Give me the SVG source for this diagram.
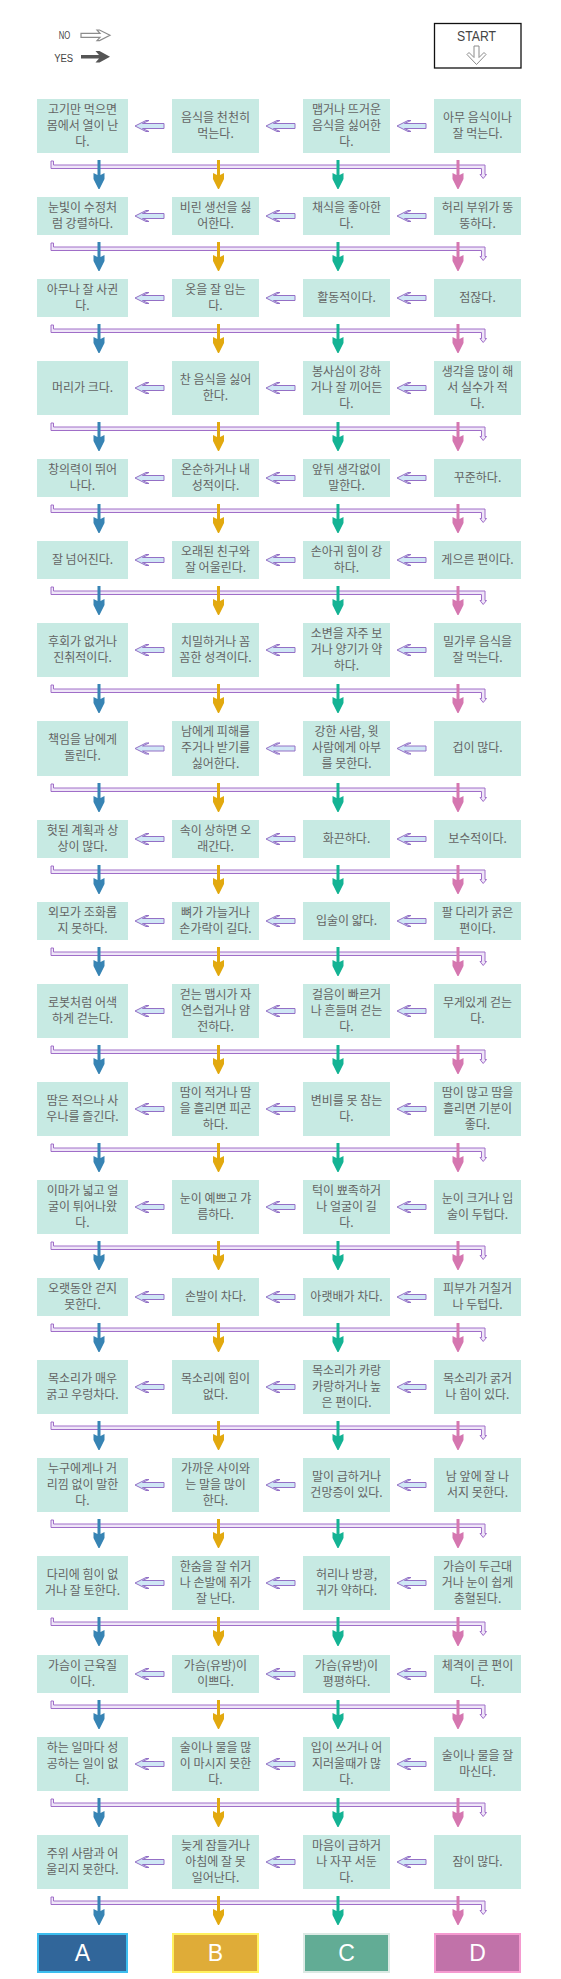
<svg xmlns="http://www.w3.org/2000/svg" xmlns:xlink="http://www.w3.org/1999/xlink" width="561" height="1979" viewBox="0 0 561 1979">
<style>
.b{fill:#C7EAE3}
.t{font-family:"Noto Sans CJK KR","Noto Sans",sans-serif;font-size:12px;fill:#646464;text-anchor:middle}
.lg{font-family:"Liberation Sans",Arial,sans-serif;fill:#444;text-anchor:middle}
.r{font-family:"Liberation Sans",Arial,sans-serif;font-size:23px;fill:#fff;text-anchor:middle}
.no{fill:#CFE7F5;stroke:#9470C6;stroke-width:1}
.bar{fill:#EFE6F8;stroke:#A06EC8;stroke-width:1}
.ca{fill:#3784B4}.cb{fill:#E2A90F}.cc{fill:#14B394}.cd{fill:#D577B0}
</style>
<defs>
<path id="noar" d="M0,0 L11,-5.5 H14 L7.5,-2.5 H29 V2.5 H7.5 L14,5.5 H11 Z"/>
<path id="bar" d="M51,8 H53.5 V12 H485 V21.5 H486.5 L483.2,25.5 L480,21.5 H481.5 V15.5 H51 Z"/>
<path id="ya" d="M-1.5,0 H1.5 V15 L5.5,13 V19 L0.5,29 H-0.5 L-5.5,19 V13 L-1.5,15 Z"/>
</defs>
<rect width="561" height="1979" fill="#fff"/>
<g id="legend">
<text class="lg" x="64.5" y="39" font-size="10" textLength="11.5" lengthAdjust="spacingAndGlyphs">NO</text>
<path d="M81,33.3 H100 L97,30 H99.5 L110,35.3 L99.5,40.6 H97 L100,37.3 H81 Z" fill="#fff" stroke="#8C8C8C" stroke-width="1.2"/>
<text class="lg" x="63.7" y="61.5" font-size="10" textLength="19" lengthAdjust="spacingAndGlyphs">YES</text>
<path d="M81,55 H99 L95.5,51 H99.5 L110,56.8 L99.5,62.6 H95.5 L99,58.6 H81 Z" fill="#555"/>
</g>
<g id="start">
<rect x="434.5" y="23.5" width="86.5" height="44.5" fill="#fff" stroke="#111" stroke-width="1.3"/>
<text class="lg" x="476.5" y="41" font-size="14" textLength="39" lengthAdjust="spacingAndGlyphs">START</text>
<path d="M474,46 H479 V57.5 L484,52.5 L486,54.5 L476.5,64.5 L467,54.5 L469,52.5 L474,57.5 Z" fill="#fff" stroke="#8C8C8C" stroke-width="1"/>
</g>
<g id="row1">
<g id="n1a"><rect class="b" x="37" y="99" width="91" height="54"/><text class="t"><tspan x="82.5" y="113.5">고기만 먹으면</tspan><tspan x="82.5" y="129.5">몸에서 열이 난</tspan><tspan x="82.5" y="145.5">다.</tspan></text></g>
<g id="n1b"><rect class="b" x="172" y="99" width="87" height="54"/><text class="t"><tspan x="215.5" y="121.5">음식을 천천히</tspan><tspan x="215.5" y="137.5">먹는다.</tspan></text></g>
<g id="n1c"><rect class="b" x="303" y="99" width="87" height="54"/><text class="t"><tspan x="346.5" y="113.5">맵거나 뜨거운</tspan><tspan x="346.5" y="129.5">음식을 싫어한</tspan><tspan x="346.5" y="145.5">다.</tspan></text></g>
<g id="n1d"><rect class="b" x="434" y="99" width="87" height="54"/><text class="t"><tspan x="477.5" y="121.5">아무 음식이나</tspan><tspan x="477.5" y="137.5">잘 먹는다.</tspan></text></g>
</g>
<g id="row2">
<g id="n2a"><rect class="b" x="37" y="197" width="91" height="38"/><text class="t"><tspan x="82.5" y="211.5">눈빛이 수정처</tspan><tspan x="82.5" y="227.5">럼 강렬하다.</tspan></text></g>
<g id="n2b"><rect class="b" x="172" y="197" width="87" height="38"/><text class="t"><tspan x="215.5" y="211.5">비린 생선을 싫</tspan><tspan x="215.5" y="227.5">어한다.</tspan></text></g>
<g id="n2c"><rect class="b" x="303" y="197" width="87" height="38"/><text class="t"><tspan x="346.5" y="211.5">채식을 좋아한</tspan><tspan x="346.5" y="227.5">다.</tspan></text></g>
<g id="n2d"><rect class="b" x="434" y="197" width="87" height="38"/><text class="t"><tspan x="477.5" y="211.5">허리 부위가 뚱</tspan><tspan x="477.5" y="227.5">뚱하다.</tspan></text></g>
</g>
<g id="row3">
<g id="n3a"><rect class="b" x="37" y="279" width="91" height="38"/><text class="t"><tspan x="82.5" y="293.5">아무나 잘 사귄</tspan><tspan x="82.5" y="309.5">다.</tspan></text></g>
<g id="n3b"><rect class="b" x="172" y="279" width="87" height="38"/><text class="t"><tspan x="215.5" y="293.5">옷을 잘 입는</tspan><tspan x="215.5" y="309.5">다.</tspan></text></g>
<g id="n3c"><rect class="b" x="303" y="279" width="87" height="38"/><text class="t" x="346.5" y="301.5">활동적이다.</text></g>
<g id="n3d"><rect class="b" x="434" y="279" width="87" height="38"/><text class="t" x="477.5" y="301.5">점잖다.</text></g>
</g>
<g id="row4">
<g id="n4a"><rect class="b" x="37" y="361" width="91" height="54"/><text class="t" x="82.5" y="391.5">머리가 크다.</text></g>
<g id="n4b"><rect class="b" x="172" y="361" width="87" height="54"/><text class="t"><tspan x="215.5" y="383.5">찬 음식을 싫어</tspan><tspan x="215.5" y="399.5">한다.</tspan></text></g>
<g id="n4c"><rect class="b" x="303" y="361" width="87" height="54"/><text class="t"><tspan x="346.5" y="375.5">봉사심이 강하</tspan><tspan x="346.5" y="391.5">거나 잘 끼어든</tspan><tspan x="346.5" y="407.5">다.</tspan></text></g>
<g id="n4d"><rect class="b" x="434" y="361" width="87" height="54"/><text class="t"><tspan x="477.5" y="375.5">생각을 많이 해</tspan><tspan x="477.5" y="391.5">서 실수가 적</tspan><tspan x="477.5" y="407.5">다.</tspan></text></g>
</g>
<g id="row5">
<g id="n5a"><rect class="b" x="37" y="459" width="91" height="38"/><text class="t"><tspan x="82.5" y="473.5">창의력이 뛰어</tspan><tspan x="82.5" y="489.5">나다.</tspan></text></g>
<g id="n5b"><rect class="b" x="172" y="459" width="87" height="38"/><text class="t"><tspan x="215.5" y="473.5">온순하거나 내</tspan><tspan x="215.5" y="489.5">성적이다.</tspan></text></g>
<g id="n5c"><rect class="b" x="303" y="459" width="87" height="38"/><text class="t"><tspan x="346.5" y="473.5">앞뒤 생각없이</tspan><tspan x="346.5" y="489.5">말한다.</tspan></text></g>
<g id="n5d"><rect class="b" x="434" y="459" width="87" height="38"/><text class="t" x="477.5" y="481.5">꾸준하다.</text></g>
</g>
<g id="row6">
<g id="n6a"><rect class="b" x="37" y="541" width="91" height="38"/><text class="t" x="82.5" y="563.5">잘 넘어진다.</text></g>
<g id="n6b"><rect class="b" x="172" y="541" width="87" height="38"/><text class="t"><tspan x="215.5" y="555.5">오래된 친구와</tspan><tspan x="215.5" y="571.5">잘 어울린다.</tspan></text></g>
<g id="n6c"><rect class="b" x="303" y="541" width="87" height="38"/><text class="t"><tspan x="346.5" y="555.5">손아귀 힘이 강</tspan><tspan x="346.5" y="571.5">하다.</tspan></text></g>
<g id="n6d"><rect class="b" x="434" y="541" width="87" height="38"/><text class="t" x="477.5" y="563.5">게으른 편이다.</text></g>
</g>
<g id="row7">
<g id="n7a"><rect class="b" x="37" y="623" width="91" height="54"/><text class="t"><tspan x="82.5" y="645.5">후회가 없거나</tspan><tspan x="82.5" y="661.5">진취적이다.</tspan></text></g>
<g id="n7b"><rect class="b" x="172" y="623" width="87" height="54"/><text class="t"><tspan x="215.5" y="645.5">치밀하거나 꼼</tspan><tspan x="215.5" y="661.5">꼼한 성격이다.</tspan></text></g>
<g id="n7c"><rect class="b" x="303" y="623" width="87" height="54"/><text class="t"><tspan x="346.5" y="637.5">소변을 자주 보</tspan><tspan x="346.5" y="653.5">거나 양기가 약</tspan><tspan x="346.5" y="669.5">하다.</tspan></text></g>
<g id="n7d"><rect class="b" x="434" y="623" width="87" height="54"/><text class="t"><tspan x="477.5" y="645.5">밀가루 음식을</tspan><tspan x="477.5" y="661.5">잘 먹는다.</tspan></text></g>
</g>
<g id="row8">
<g id="n8a"><rect class="b" x="37" y="721" width="91" height="55"/><text class="t"><tspan x="82.5" y="744">책임을 남에게</tspan><tspan x="82.5" y="760">돌린다.</tspan></text></g>
<g id="n8b"><rect class="b" x="172" y="721" width="87" height="55"/><text class="t"><tspan x="215.5" y="736">남에게 피해를</tspan><tspan x="215.5" y="752">주거나 받기를</tspan><tspan x="215.5" y="768">싫어한다.</tspan></text></g>
<g id="n8c"><rect class="b" x="303" y="721" width="87" height="55"/><text class="t"><tspan x="346.5" y="736">강한 사람, 윗</tspan><tspan x="346.5" y="752">사람에게 아부</tspan><tspan x="346.5" y="768">를 못한다.</tspan></text></g>
<g id="n8d"><rect class="b" x="434" y="721" width="87" height="55"/><text class="t" x="477.5" y="752">겁이 많다.</text></g>
</g>
<g id="row9">
<g id="n9a"><rect class="b" x="37" y="820" width="91" height="38"/><text class="t"><tspan x="82.5" y="834.5">헛된 계획과 상</tspan><tspan x="82.5" y="850.5">상이 많다.</tspan></text></g>
<g id="n9b"><rect class="b" x="172" y="820" width="87" height="38"/><text class="t"><tspan x="215.5" y="834.5">속이 상하면 오</tspan><tspan x="215.5" y="850.5">래간다.</tspan></text></g>
<g id="n9c"><rect class="b" x="303" y="820" width="87" height="38"/><text class="t" x="346.5" y="842.5">화끈하다.</text></g>
<g id="n9d"><rect class="b" x="434" y="820" width="87" height="38"/><text class="t" x="477.5" y="842.5">보수적이다.</text></g>
</g>
<g id="row10">
<g id="n10a"><rect class="b" x="37" y="902" width="91" height="38"/><text class="t"><tspan x="82.5" y="916.5">외모가 조화롭</tspan><tspan x="82.5" y="932.5">지 못하다.</tspan></text></g>
<g id="n10b"><rect class="b" x="172" y="902" width="87" height="38"/><text class="t"><tspan x="215.5" y="916.5">뼈가 가늘거나</tspan><tspan x="215.5" y="932.5">손가락이 길다.</tspan></text></g>
<g id="n10c"><rect class="b" x="303" y="902" width="87" height="38"/><text class="t" x="346.5" y="924.5">입술이 얇다.</text></g>
<g id="n10d"><rect class="b" x="434" y="902" width="87" height="38"/><text class="t"><tspan x="477.5" y="916.5">팔 다리가 굵은</tspan><tspan x="477.5" y="932.5">편이다.</tspan></text></g>
</g>
<g id="row11">
<g id="n11a"><rect class="b" x="37" y="984" width="91" height="54"/><text class="t"><tspan x="82.5" y="1006.5">로봇처럼 어색</tspan><tspan x="82.5" y="1022.5">하게 걷는다.</tspan></text></g>
<g id="n11b"><rect class="b" x="172" y="984" width="87" height="54"/><text class="t"><tspan x="215.5" y="998.5">걷는 맵시가 자</tspan><tspan x="215.5" y="1014.5">연스럽거나 얌</tspan><tspan x="215.5" y="1030.5">전하다.</tspan></text></g>
<g id="n11c"><rect class="b" x="303" y="984" width="87" height="54"/><text class="t"><tspan x="346.5" y="998.5">걸음이 빠르거</tspan><tspan x="346.5" y="1014.5">나 흔들며 걷는</tspan><tspan x="346.5" y="1030.5">다.</tspan></text></g>
<g id="n11d"><rect class="b" x="434" y="984" width="87" height="54"/><text class="t"><tspan x="477.5" y="1006.5">무게있게 걷는</tspan><tspan x="477.5" y="1022.5">다.</tspan></text></g>
</g>
<g id="row12">
<g id="n12a"><rect class="b" x="37" y="1082" width="91" height="54"/><text class="t"><tspan x="82.5" y="1104.5">땀은 적으나 사</tspan><tspan x="82.5" y="1120.5">우나를 즐긴다.</tspan></text></g>
<g id="n12b"><rect class="b" x="172" y="1082" width="87" height="54"/><text class="t"><tspan x="215.5" y="1096.5">땀이 적거나 땀</tspan><tspan x="215.5" y="1112.5">을 흘리면 피곤</tspan><tspan x="215.5" y="1128.5">하다.</tspan></text></g>
<g id="n12c"><rect class="b" x="303" y="1082" width="87" height="54"/><text class="t"><tspan x="346.5" y="1104.5">변비를 못 참는</tspan><tspan x="346.5" y="1120.5">다.</tspan></text></g>
<g id="n12d"><rect class="b" x="434" y="1082" width="87" height="54"/><text class="t"><tspan x="477.5" y="1096.5">땀이 많고 땀을</tspan><tspan x="477.5" y="1112.5">흘리면 기분이</tspan><tspan x="477.5" y="1128.5">좋다.</tspan></text></g>
</g>
<g id="row13">
<g id="n13a"><rect class="b" x="37" y="1180" width="91" height="54"/><text class="t"><tspan x="82.5" y="1194.5">이마가 넓고 얼</tspan><tspan x="82.5" y="1210.5">굴이 튀어나왔</tspan><tspan x="82.5" y="1226.5">다.</tspan></text></g>
<g id="n13b"><rect class="b" x="172" y="1180" width="87" height="54"/><text class="t"><tspan x="215.5" y="1202.5">눈이 예쁘고 갸</tspan><tspan x="215.5" y="1218.5">름하다.</tspan></text></g>
<g id="n13c"><rect class="b" x="303" y="1180" width="87" height="54"/><text class="t"><tspan x="346.5" y="1194.5">턱이 뾰족하거</tspan><tspan x="346.5" y="1210.5">나 얼굴이 길</tspan><tspan x="346.5" y="1226.5">다.</tspan></text></g>
<g id="n13d"><rect class="b" x="434" y="1180" width="87" height="54"/><text class="t"><tspan x="477.5" y="1202.5">눈이 크거나 입</tspan><tspan x="477.5" y="1218.5">술이 두텁다.</tspan></text></g>
</g>
<g id="row14">
<g id="n14a"><rect class="b" x="37" y="1278" width="91" height="38"/><text class="t"><tspan x="82.5" y="1292.5">오랫동안 걷지</tspan><tspan x="82.5" y="1308.5">못한다.</tspan></text></g>
<g id="n14b"><rect class="b" x="172" y="1278" width="87" height="38"/><text class="t" x="215.5" y="1300.5">손발이 차다.</text></g>
<g id="n14c"><rect class="b" x="303" y="1278" width="87" height="38"/><text class="t" x="346.5" y="1300.5">아랫배가 차다.</text></g>
<g id="n14d"><rect class="b" x="434" y="1278" width="87" height="38"/><text class="t"><tspan x="477.5" y="1292.5">피부가 거칠거</tspan><tspan x="477.5" y="1308.5">나 두텁다.</tspan></text></g>
</g>
<g id="row15">
<g id="n15a"><rect class="b" x="37" y="1360" width="91" height="54"/><text class="t"><tspan x="82.5" y="1382.5">목소리가 매우</tspan><tspan x="82.5" y="1398.5">굵고 우렁차다.</tspan></text></g>
<g id="n15b"><rect class="b" x="172" y="1360" width="87" height="54"/><text class="t"><tspan x="215.5" y="1382.5">목소리에 힘이</tspan><tspan x="215.5" y="1398.5">없다.</tspan></text></g>
<g id="n15c"><rect class="b" x="303" y="1360" width="87" height="54"/><text class="t"><tspan x="346.5" y="1374.5">목소리가 카랑</tspan><tspan x="346.5" y="1390.5">카랑하거나 높</tspan><tspan x="346.5" y="1406.5">은 편이다.</tspan></text></g>
<g id="n15d"><rect class="b" x="434" y="1360" width="87" height="54"/><text class="t"><tspan x="477.5" y="1382.5">목소리가 굵거</tspan><tspan x="477.5" y="1398.5">나 힘이 있다.</tspan></text></g>
</g>
<g id="row16">
<g id="n16a"><rect class="b" x="37" y="1458" width="91" height="54"/><text class="t"><tspan x="82.5" y="1472.5">누구에게나 거</tspan><tspan x="82.5" y="1488.5">리낌 없이 말한</tspan><tspan x="82.5" y="1504.5">다.</tspan></text></g>
<g id="n16b"><rect class="b" x="172" y="1458" width="87" height="54"/><text class="t"><tspan x="215.5" y="1472.5">가까운 사이와</tspan><tspan x="215.5" y="1488.5">는 말을 많이</tspan><tspan x="215.5" y="1504.5">한다.</tspan></text></g>
<g id="n16c"><rect class="b" x="303" y="1458" width="87" height="54"/><text class="t"><tspan x="346.5" y="1480.5">말이 급하거나</tspan><tspan x="346.5" y="1496.5">건망증이 있다.</tspan></text></g>
<g id="n16d"><rect class="b" x="434" y="1458" width="87" height="54"/><text class="t"><tspan x="477.5" y="1480.5">남 앞에 잘 나</tspan><tspan x="477.5" y="1496.5">서지 못한다.</tspan></text></g>
</g>
<g id="row17">
<g id="n17a"><rect class="b" x="37" y="1556" width="91" height="54"/><text class="t"><tspan x="82.5" y="1578.5">다리에 힘이 없</tspan><tspan x="82.5" y="1594.5">거나 잘 토한다.</tspan></text></g>
<g id="n17b"><rect class="b" x="172" y="1556" width="87" height="54"/><text class="t"><tspan x="215.5" y="1570.5">한숨을 잘 쉬거</tspan><tspan x="215.5" y="1586.5">나 손발에 쥐가</tspan><tspan x="215.5" y="1602.5">잘 난다.</tspan></text></g>
<g id="n17c"><rect class="b" x="303" y="1556" width="87" height="54"/><text class="t"><tspan x="346.5" y="1578.5">허리나 방광,</tspan><tspan x="346.5" y="1594.5">귀가 약하다.</tspan></text></g>
<g id="n17d"><rect class="b" x="434" y="1556" width="87" height="54"/><text class="t"><tspan x="477.5" y="1570.5">가슴이 두근대</tspan><tspan x="477.5" y="1586.5">거나 눈이 쉽게</tspan><tspan x="477.5" y="1602.5">충혈된다.</tspan></text></g>
</g>
<g id="row18">
<g id="n18a"><rect class="b" x="37" y="1655" width="91" height="38"/><text class="t"><tspan x="82.5" y="1669.5">가슴이 근육질</tspan><tspan x="82.5" y="1685.5">이다.</tspan></text></g>
<g id="n18b"><rect class="b" x="172" y="1655" width="87" height="38"/><text class="t"><tspan x="215.5" y="1669.5">가슴(유방)이</tspan><tspan x="215.5" y="1685.5">이쁘다.</tspan></text></g>
<g id="n18c"><rect class="b" x="303" y="1655" width="87" height="38"/><text class="t"><tspan x="346.5" y="1669.5">가슴(유방)이</tspan><tspan x="346.5" y="1685.5">평평하다.</tspan></text></g>
<g id="n18d"><rect class="b" x="434" y="1655" width="87" height="38"/><text class="t"><tspan x="477.5" y="1669.5">체격이 큰 편이</tspan><tspan x="477.5" y="1685.5">다.</tspan></text></g>
</g>
<g id="row19">
<g id="n19a"><rect class="b" x="37" y="1737" width="91" height="54"/><text class="t"><tspan x="82.5" y="1751.5">하는 일마다 성</tspan><tspan x="82.5" y="1767.5">공하는 일이 없</tspan><tspan x="82.5" y="1783.5">다.</tspan></text></g>
<g id="n19b"><rect class="b" x="172" y="1737" width="87" height="54"/><text class="t"><tspan x="215.5" y="1751.5">술이나 물을 많</tspan><tspan x="215.5" y="1767.5">이 마시지 못한</tspan><tspan x="215.5" y="1783.5">다.</tspan></text></g>
<g id="n19c"><rect class="b" x="303" y="1737" width="87" height="54"/><text class="t"><tspan x="346.5" y="1751.5">입이 쓰거나 어</tspan><tspan x="346.5" y="1767.5">지러울때가 많</tspan><tspan x="346.5" y="1783.5">다.</tspan></text></g>
<g id="n19d"><rect class="b" x="434" y="1737" width="87" height="54"/><text class="t"><tspan x="477.5" y="1759.5">술이나 물을 잘</tspan><tspan x="477.5" y="1775.5">마신다.</tspan></text></g>
</g>
<g id="row20">
<g id="n20a"><rect class="b" x="37" y="1835" width="91" height="54"/><text class="t"><tspan x="82.5" y="1857.5">주위 사람과 어</tspan><tspan x="82.5" y="1873.5">울리지 못한다.</tspan></text></g>
<g id="n20b"><rect class="b" x="172" y="1835" width="87" height="54"/><text class="t"><tspan x="215.5" y="1849.5">늦게 잠들거나</tspan><tspan x="215.5" y="1865.5">아침에 잘 못</tspan><tspan x="215.5" y="1881.5">일어난다.</tspan></text></g>
<g id="n20c"><rect class="b" x="303" y="1835" width="87" height="54"/><text class="t"><tspan x="346.5" y="1849.5">마음이 급하거</tspan><tspan x="346.5" y="1865.5">나 자꾸 서둔</tspan><tspan x="346.5" y="1881.5">다.</tspan></text></g>
<g id="n20d"><rect class="b" x="434" y="1835" width="87" height="54"/><text class="t" x="477.5" y="1865.5">잠이 많다.</text></g>
</g>
<g id="results">
<g id="resA"><rect x="38" y="1934" width="89" height="38" fill="#31669A" stroke="#3CBDEE" stroke-width="2"/><text class="r" x="82.5" y="1961.3">A</text></g>
<g id="resB"><rect x="173" y="1934" width="85" height="38" fill="#DFAC38" stroke="#FFF15E" stroke-width="2"/><text class="r" x="215.5" y="1961.3">B</text></g>
<g id="resC"><rect x="304" y="1934" width="85" height="38" fill="#62AC95" stroke="#DCE9E4" stroke-width="2"/><text class="r" x="346.5" y="1961.3">C</text></g>
<g id="resD"><rect x="435" y="1934" width="85" height="38" fill="#C172A9" stroke="#F59AD0" stroke-width="2"/><text class="r" x="477.5" y="1961.3">D</text></g>
</g>
<g id="connectors">
<g id="no-arrows" class="no">
<use href="#noar" x="135" y="126"/><use href="#noar" x="266" y="126"/><use href="#noar" x="397" y="126"/>
<use href="#noar" x="135" y="216"/><use href="#noar" x="266" y="216"/><use href="#noar" x="397" y="216"/>
<use href="#noar" x="135" y="298"/><use href="#noar" x="266" y="298"/><use href="#noar" x="397" y="298"/>
<use href="#noar" x="135" y="388"/><use href="#noar" x="266" y="388"/><use href="#noar" x="397" y="388"/>
<use href="#noar" x="135" y="478"/><use href="#noar" x="266" y="478"/><use href="#noar" x="397" y="478"/>
<use href="#noar" x="135" y="560"/><use href="#noar" x="266" y="560"/><use href="#noar" x="397" y="560"/>
<use href="#noar" x="135" y="650"/><use href="#noar" x="266" y="650"/><use href="#noar" x="397" y="650"/>
<use href="#noar" x="135" y="748.5"/><use href="#noar" x="266" y="748.5"/><use href="#noar" x="397" y="748.5"/>
<use href="#noar" x="135" y="839"/><use href="#noar" x="266" y="839"/><use href="#noar" x="397" y="839"/>
<use href="#noar" x="135" y="921"/><use href="#noar" x="266" y="921"/><use href="#noar" x="397" y="921"/>
<use href="#noar" x="135" y="1011"/><use href="#noar" x="266" y="1011"/><use href="#noar" x="397" y="1011"/>
<use href="#noar" x="135" y="1109"/><use href="#noar" x="266" y="1109"/><use href="#noar" x="397" y="1109"/>
<use href="#noar" x="135" y="1207"/><use href="#noar" x="266" y="1207"/><use href="#noar" x="397" y="1207"/>
<use href="#noar" x="135" y="1297"/><use href="#noar" x="266" y="1297"/><use href="#noar" x="397" y="1297"/>
<use href="#noar" x="135" y="1387"/><use href="#noar" x="266" y="1387"/><use href="#noar" x="397" y="1387"/>
<use href="#noar" x="135" y="1485"/><use href="#noar" x="266" y="1485"/><use href="#noar" x="397" y="1485"/>
<use href="#noar" x="135" y="1583"/><use href="#noar" x="266" y="1583"/><use href="#noar" x="397" y="1583"/>
<use href="#noar" x="135" y="1674"/><use href="#noar" x="266" y="1674"/><use href="#noar" x="397" y="1674"/>
<use href="#noar" x="135" y="1764"/><use href="#noar" x="266" y="1764"/><use href="#noar" x="397" y="1764"/>
<use href="#noar" x="135" y="1862"/><use href="#noar" x="266" y="1862"/><use href="#noar" x="397" y="1862"/>
</g>
<g id="bars" class="bar">
<use href="#bar" y="153"/><use href="#bar" y="235"/><use href="#bar" y="317"/><use href="#bar" y="415"/>
<use href="#bar" y="497"/><use href="#bar" y="579"/><use href="#bar" y="677"/><use href="#bar" y="776"/>
<use href="#bar" y="858"/><use href="#bar" y="940"/><use href="#bar" y="1038"/><use href="#bar" y="1136"/>
<use href="#bar" y="1234"/><use href="#bar" y="1316"/><use href="#bar" y="1414"/><use href="#bar" y="1512"/>
<use href="#bar" y="1610"/><use href="#bar" y="1693"/><use href="#bar" y="1791"/><use href="#bar" y="1889"/>
</g>
<g id="yes-a" class="ca">
<use href="#ya" x="99" y="160"/><use href="#ya" x="99" y="242"/><use href="#ya" x="99" y="324"/><use href="#ya" x="99" y="422"/>
<use href="#ya" x="99" y="504"/><use href="#ya" x="99" y="586"/><use href="#ya" x="99" y="684"/><use href="#ya" x="99" y="783"/>
<use href="#ya" x="99" y="865"/><use href="#ya" x="99" y="947"/><use href="#ya" x="99" y="1045"/><use href="#ya" x="99" y="1143"/>
<use href="#ya" x="99" y="1241"/><use href="#ya" x="99" y="1323"/><use href="#ya" x="99" y="1421"/><use href="#ya" x="99" y="1519"/>
<use href="#ya" x="99" y="1617"/><use href="#ya" x="99" y="1700"/><use href="#ya" x="99" y="1798"/><use href="#ya" x="99" y="1896"/>
</g>
<g id="yes-b" class="cb">
<use href="#ya" x="218.5" y="160"/><use href="#ya" x="218.5" y="242"/><use href="#ya" x="218.5" y="324"/><use href="#ya" x="218.5" y="422"/>
<use href="#ya" x="218.5" y="504"/><use href="#ya" x="218.5" y="586"/><use href="#ya" x="218.5" y="684"/><use href="#ya" x="218.5" y="783"/>
<use href="#ya" x="218.5" y="865"/><use href="#ya" x="218.5" y="947"/><use href="#ya" x="218.5" y="1045"/><use href="#ya" x="218.5" y="1143"/>
<use href="#ya" x="218.5" y="1241"/><use href="#ya" x="218.5" y="1323"/><use href="#ya" x="218.5" y="1421"/><use href="#ya" x="218.5" y="1519"/>
<use href="#ya" x="218.5" y="1617"/><use href="#ya" x="218.5" y="1700"/><use href="#ya" x="218.5" y="1798"/><use href="#ya" x="218.5" y="1896"/>
</g>
<g id="yes-c" class="cc">
<use href="#ya" x="338" y="160"/><use href="#ya" x="338" y="242"/><use href="#ya" x="338" y="324"/><use href="#ya" x="338" y="422"/>
<use href="#ya" x="338" y="504"/><use href="#ya" x="338" y="586"/><use href="#ya" x="338" y="684"/><use href="#ya" x="338" y="783"/>
<use href="#ya" x="338" y="865"/><use href="#ya" x="338" y="947"/><use href="#ya" x="338" y="1045"/><use href="#ya" x="338" y="1143"/>
<use href="#ya" x="338" y="1241"/><use href="#ya" x="338" y="1323"/><use href="#ya" x="338" y="1421"/><use href="#ya" x="338" y="1519"/>
<use href="#ya" x="338" y="1617"/><use href="#ya" x="338" y="1700"/><use href="#ya" x="338" y="1798"/><use href="#ya" x="338" y="1896"/>
</g>
<g id="yes-d" class="cd">
<use href="#ya" x="458" y="160"/><use href="#ya" x="458" y="242"/><use href="#ya" x="458" y="324"/><use href="#ya" x="458" y="422"/>
<use href="#ya" x="458" y="504"/><use href="#ya" x="458" y="586"/><use href="#ya" x="458" y="684"/><use href="#ya" x="458" y="783"/>
<use href="#ya" x="458" y="865"/><use href="#ya" x="458" y="947"/><use href="#ya" x="458" y="1045"/><use href="#ya" x="458" y="1143"/>
<use href="#ya" x="458" y="1241"/><use href="#ya" x="458" y="1323"/><use href="#ya" x="458" y="1421"/><use href="#ya" x="458" y="1519"/>
<use href="#ya" x="458" y="1617"/><use href="#ya" x="458" y="1700"/><use href="#ya" x="458" y="1798"/><use href="#ya" x="458" y="1896"/>
</g>
</g>
</svg>
